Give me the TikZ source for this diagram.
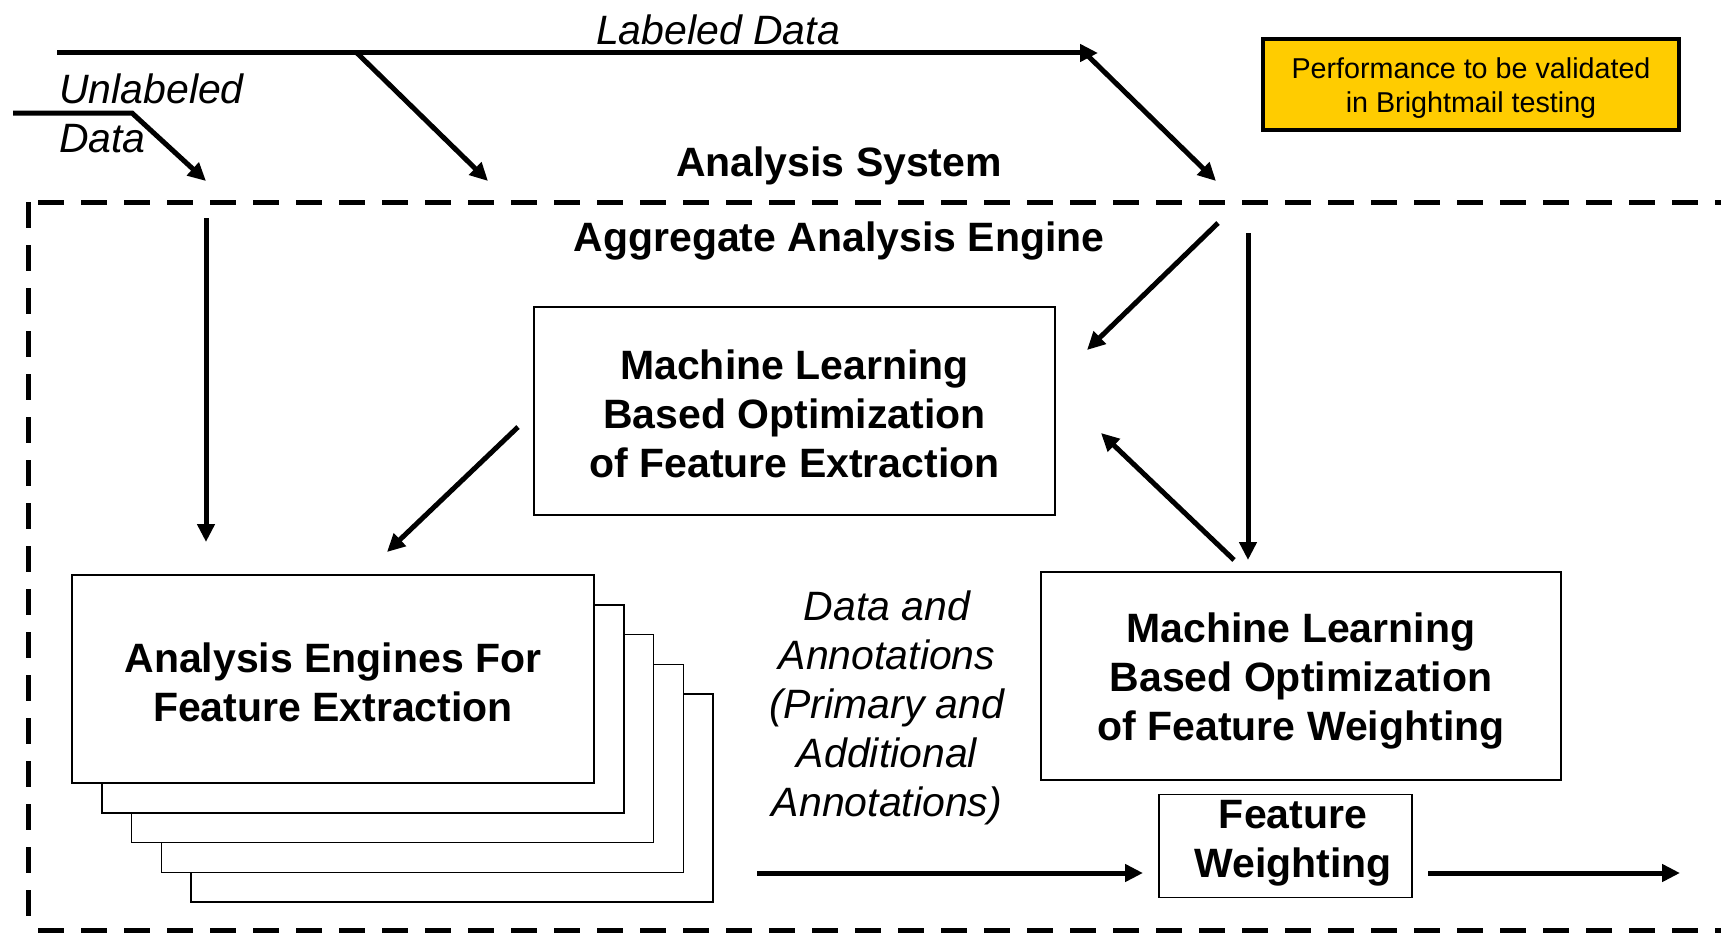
\documentclass[tikz,border=0pt]{standalone}
\usepackage{fontspec}
\setmainfont{Liberation Sans}
\usetikzlibrary{arrows.meta}
\definecolor{perfyellow}{HTML}{FFCC00}
\begin{document}
\begin{tikzpicture}[x=1pt,y=-1pt,
  flow/.style={line width=5pt,-{Triangle[length=18pt,width=17pt]}},
  box/.style={draw,line width=1.6pt,fill=white,inner sep=0pt},
  bigb/.style={font=\fontsize{41}{49}\selectfont\bfseries,align=center,inner sep=0pt},
  bigi/.style={font=\fontsize{41}{49}\selectfont\itshape,inner sep=0pt},
  dashes/.style={line width=5pt,dash pattern=on 26pt off 17pt}]
\useasboundingbox (0,0) rectangle (1721,934);

% system boundary
\draw[dashes,dash phase=33pt] (28,202) -- (1721,202);
\draw[dashes] (28,202) -- (28,930);
\draw[dashes,dash phase=33pt] (28,930) -- (1721,930);

% texts
\node[bigi] (labeled) at (718,30) {Labeled Data};
\node[bigi,align=left,anchor=west] (unlabeled) at (59,113) {Unlabeled\\Data};
\node[bigb] (asys) at (839,166) {Analysis System};
\node[bigb] (aae) at (839,241) {Aggregate Analysis Engine};
\node[draw,line width=4pt,fill=perfyellow,minimum width=416pt,minimum height=91pt,
  inner sep=0pt] (perf) at (1471,84.5) {};
\node[align=center,inner sep=0pt,font=\fontsize{28.7}{34}\selectfont] (perftext)
  at (1471,88.5) {Performance to be validated\\in Brightmail testing};

% stacked analysis engines
\foreach \k in {4,3,2,1} {
  \node[box,minimum width=522pt,minimum height=208pt] (s\k) at (333+29.8*\k,679+29.8*\k) {};
}
\node[box,minimum width=522pt,minimum height=208pt] (aefe) at (333,679) {};
\node[bigb] (aefetext) at (333,682) {Analysis Engines For\\Feature Extraction};

\node[box,minimum width=521pt,minimum height=208pt] (mlfe) at (794.5,411) {};
\node[bigb] (mlfetext) at (794.5,414)
  {Machine Learning\\Based Optimization\\of Feature Extraction};
\node[box,minimum width=520pt,minimum height=208pt] (mlfw) at (1301,676) {};
\node[bigb] (mlfwtext) at (1301,681)
  {Machine Learning\\Based Optimization\\of Feature Weighting};
\node[box,minimum width=253pt,minimum height=103pt] (fw) at (1285.5,846) {};
\node[bigb] (fwtext) at (1293,843) {Feature\\Weighting};

\node[bigi,align=center] (dann) at (887,708)
  {Data and\\Annotations\\(Primary and\\Additional\\Annotations)};

% connector end points
\coordinate (ls) at (57,53);   \coordinate (le) at (1098,53);
\coordinate (b1s) at (357,53); \coordinate (b1e) at (488,181);
\coordinate (b2s) at (1085,53); \coordinate (b2e) at (1216,181);
\coordinate (us) at (13,113);  \coordinate (um) at (132,113); \coordinate (ue) at (206,181);
\coordinate (v1s) at (206,218); \coordinate (v1e) at (206,542);
\coordinate (a1s) at (518,427); \coordinate (a1e) at (387,552);
\coordinate (a2s) at (1218,223); \coordinate (a2e) at (1087,350);
\coordinate (v2s) at (1248,233); \coordinate (v2e) at (1248,560);
\coordinate (a3s) at (1234,560); \coordinate (a3e) at (1101,433);
\coordinate (h1s) at (757,873); \coordinate (h1e) at (1143,873);
\coordinate (h2s) at (1428,873); \coordinate (h2e) at (1680,873);

% connectors
\draw[flow] (ls) -- (le);
\draw[flow] (b1s) -- (b1e);
\draw[flow] (b2s) -- (b2e);
\draw[flow] (us) -- (um) -- (ue);
\draw[flow] (v1s) -- (v1e);
\draw[flow] (a1s) -- (a1e);
\draw[flow] (a2s) -- (a2e);
\draw[flow] (v2s) -- (v2e);
\draw[flow] (a3s) -- (a3e);
\draw[flow] (h1s) -- (h1e);
\draw[flow] (h2s) -- (h2e);
\end{tikzpicture}
\end{document}
